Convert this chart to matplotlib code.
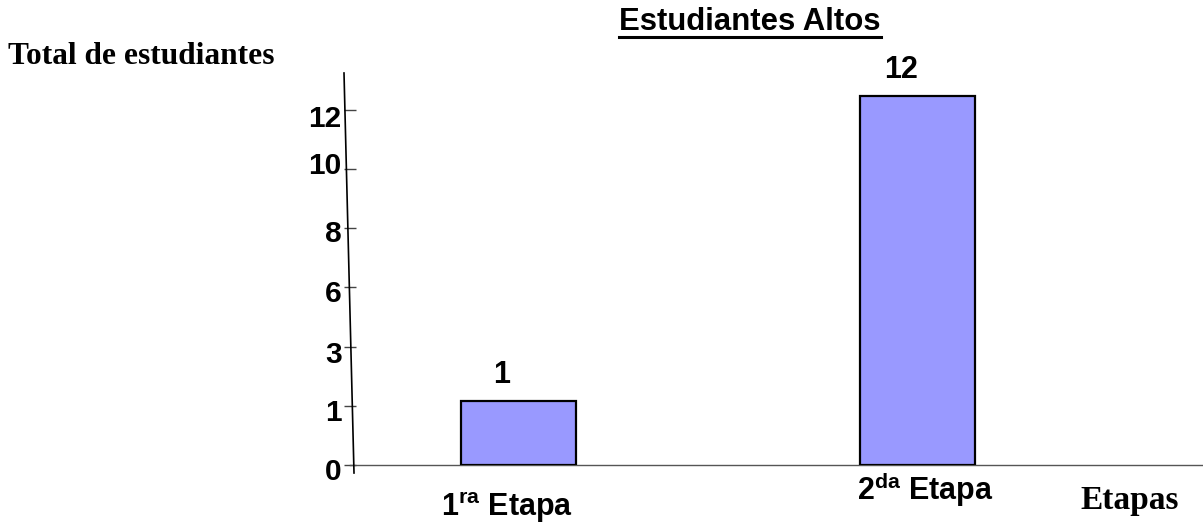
import matplotlib
matplotlib.use("Agg")
from matplotlib import pyplot as plt
from matplotlib.lines import Line2D
from matplotlib.transforms import ScaledTranslation

# data
etapas = ["1$^{\\mathrm{ra}}$ Etapa", "2$^{\\mathrm{da}}$ Etapa"]
valores = [1, 12]                 # printed value labels
alturas = [2.15, 12.45]           # bar tops as drawn against the y scale
yticks = [0, 2, 4, 6, 8, 10, 12]
ytick_labels = ["0", "1", "3", "6", "8", "10", "12"]
# the reference draws some tick labels a little off their ticks (pixels, + is down)
ytick_shift = [4, 4, 5, 4, 3, -6, 6]

plt.rcParams["mathtext.fontset"] = "custom"
plt.rcParams["mathtext.rm"] = "Liberation Sans:bold"
plt.rcParams["mathtext.bf"] = "Liberation Sans:bold"

W, H = 1203, 524
fig = plt.figure(figsize=(W / 100, H / 100), dpi=100)

# axes box in pixels: x 350..1203, y 73..465 (from top)
left, right, top, bottom = 350, 1203, 73, 465
ax = fig.add_axes([left / W, 1 - bottom / H, (right - left) / W, (bottom - top) / H])

x = [0, 1]
ax.bar(x, alturas, width=0.29, color="#9999ff", edgecolor="black", linewidth=1.6, zorder=3)
for xi, h, v in zip(x, alturas, valores):
    ax.annotate(str(v), (xi, h), xytext=(-12, 13), textcoords="offset points",
                ha="center", va="baseline", fontsize=22,
                fontweight="bold", family="Liberation Sans")

ax.set_xlim(-0.4226, 1.716)
ax.set_ylim(0, 13.24)

for s in ["top", "right", "left"]:
    ax.spines[s].set_visible(False)
ax.spines["bottom"].set_color("#555555")
ax.spines["bottom"].set_linewidth(1)

ax.set_yticks(yticks)
ax.set_yticklabels(ytick_labels, fontsize=21.5, fontweight="bold", family="Liberation Sans")
ax.tick_params(axis="y", direction="inout", length=8, width=1, color="#444444", pad=2)
ax.set_xticks([])
for lab, dy in zip(ax.get_yticklabels(), ytick_shift):
    lab.set_transform(lab.get_transform() + ScaledTranslation(0, -dy / 100, fig.dpi_scale_trans))

# slanted y axis line
fig.add_artist(Line2D([344 / W, 354 / W], [1 - 73 / H, 1 - 473 / H],
                      color="black", linewidth=1.2))

# category labels
fig.text(507 / W, 1 - 516 / H, etapas[0], ha="center", va="baseline", fontsize=22,
         fontweight="bold", family="Liberation Sans")
fig.text(925 / W, 1 - 500 / H, etapas[1], ha="center", va="baseline", fontsize=22,
         fontweight="bold", family="Liberation Sans")

fig.text(1130 / W, 1 - 500 / H, "Etapas", ha="center", va="center", fontsize=24,
         fontweight="bold", family="Liberation Serif")
fig.text(8 / W, 1 - 57 / H, "Total de estudiantes", ha="left", va="center", fontsize=22.6,
         fontweight="bold", family="Liberation Serif")

title = fig.text(750 / W, 1 - 30 / H, "Estudiantes Altos", ha="center", va="baseline",
                 fontsize=22.4, fontweight="bold", family="Liberation Sans")

# underline the title
fig.canvas.draw()
bb = title.get_window_extent()
fig.add_artist(Line2D([bb.x0 / W, bb.x1 / W], [1 - 37 / H, 1 - 37 / H],
                      color="black", linewidth=2.2))

fig.savefig("out.png", dpi=100)
